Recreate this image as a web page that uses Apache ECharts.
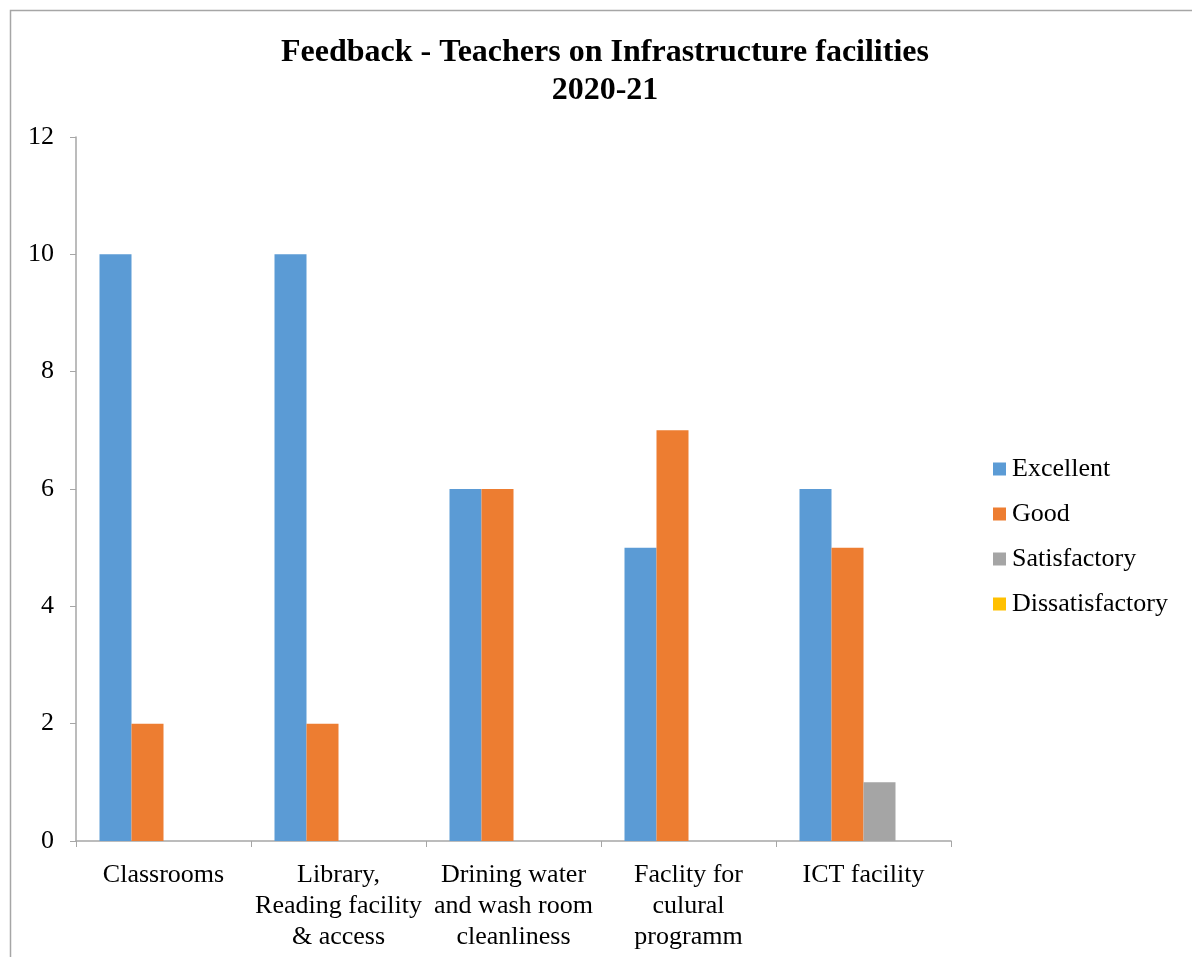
<!DOCTYPE html>
<html>
<head>
<meta charset="utf-8">
<script src="https://cdn.jsdelivr.net/npm/echarts@6/dist/echarts.min.js"></script>
<style>
html,body{margin:0;padding:0;background:#fff;}
#chart{width:1192px;height:957px;}
</style>
</head>
<body>
<div id="chart"></div>
<script>
const categories = ['Classrooms', 'Library,\nReading facility\n& access', 'Drining water\nand wash room\ncleanliness', 'Faclity for\nculural\nprogramm', 'ICT facility'];
const seriesNames = ['Excellent', 'Good', 'Satisfactory', 'Dissatisfactory'];
const excellent = [10, 10, 6, 5, 6];
const good = [2, 2, 6, 7, 5];
const satisfactory = [0, 0, 0, 0, 1];
const dissatisfactory = [0, 0, 0, 0, 0];
const colors = ['#5B9BD5', '#ED7D31', '#A5A5A5', '#FFC000'];
const yTicks = [0, 2, 4, 6, 8, 10, 12];

const font = '"Liberation Serif", "Times New Roman", serif';
const chart = echarts.init(document.getElementById('chart'));
const values = [excellent, good, satisfactory, dissatisfactory];

chart.setOption({
  animation: false,
  backgroundColor: '#fff',
  color: colors,
  title: {
    text: 'Feedback - Teachers on Infrastructure facilities\n2020-21',
    left: 600, top: 29, textAlign: 'center',
    textStyle: { fontFamily: font, fontWeight: 'bold', fontSize: 32, color: '#000', lineHeight: 38 }
  },
  graphic: [{
    type: 'rect', shape: { x: 10.5, y: 10.5, width: 1200, height: 1000 },
    style: { fill: 'none', stroke: '#a6a6a6', lineWidth: 1.5 }, silent: true
  }],
  legend: {
    orient: 'vertical', left: 988, top: 451,
    itemWidth: 13, itemHeight: 13, itemGap: 19, icon: 'rect', itemStyle: { borderWidth: 0 },
    textStyle: { fontFamily: font, fontSize: 26, color: '#000', padding: [0, 0, 0, 1] },
    data: seriesNames
  },
  grid: { left: 76, top: 137, right: 241, bottom: 116, containLabel: false },
  xAxis: {
    type: 'category', data: categories,
    axisLine: { lineStyle: { color: '#a6a6a6', width: 1.5 } },
    axisTick: { show: true, length: 6, lineStyle: { color: '#a6a6a6' } },
    axisLabel: { fontFamily: font, fontSize: 26, color: '#000', lineHeight: 31, margin: 19, interval: 0 }
  },
  yAxis: {
    type: 'value', min: 0, max: 12, interval: 2,
    splitLine: { show: false },
    axisLine: { show: true, lineStyle: { color: '#a6a6a6', width: 1.5 } },
    axisTick: { show: true, length: 6, lineStyle: { color: '#a6a6a6' } },
    axisLabel: { fontFamily: font, fontSize: 26, color: '#000', margin: 22,
      formatter: v => yTicks.includes(v) ? String(v) : '' }
  },
  series: seriesNames.map((n, i) => ({
    name: n, type: 'bar', data: values[i],
    barWidth: 32, barGap: '0%',
    itemStyle: { color: colors[i] }
  }))
});
</script>
</body>
</html>
